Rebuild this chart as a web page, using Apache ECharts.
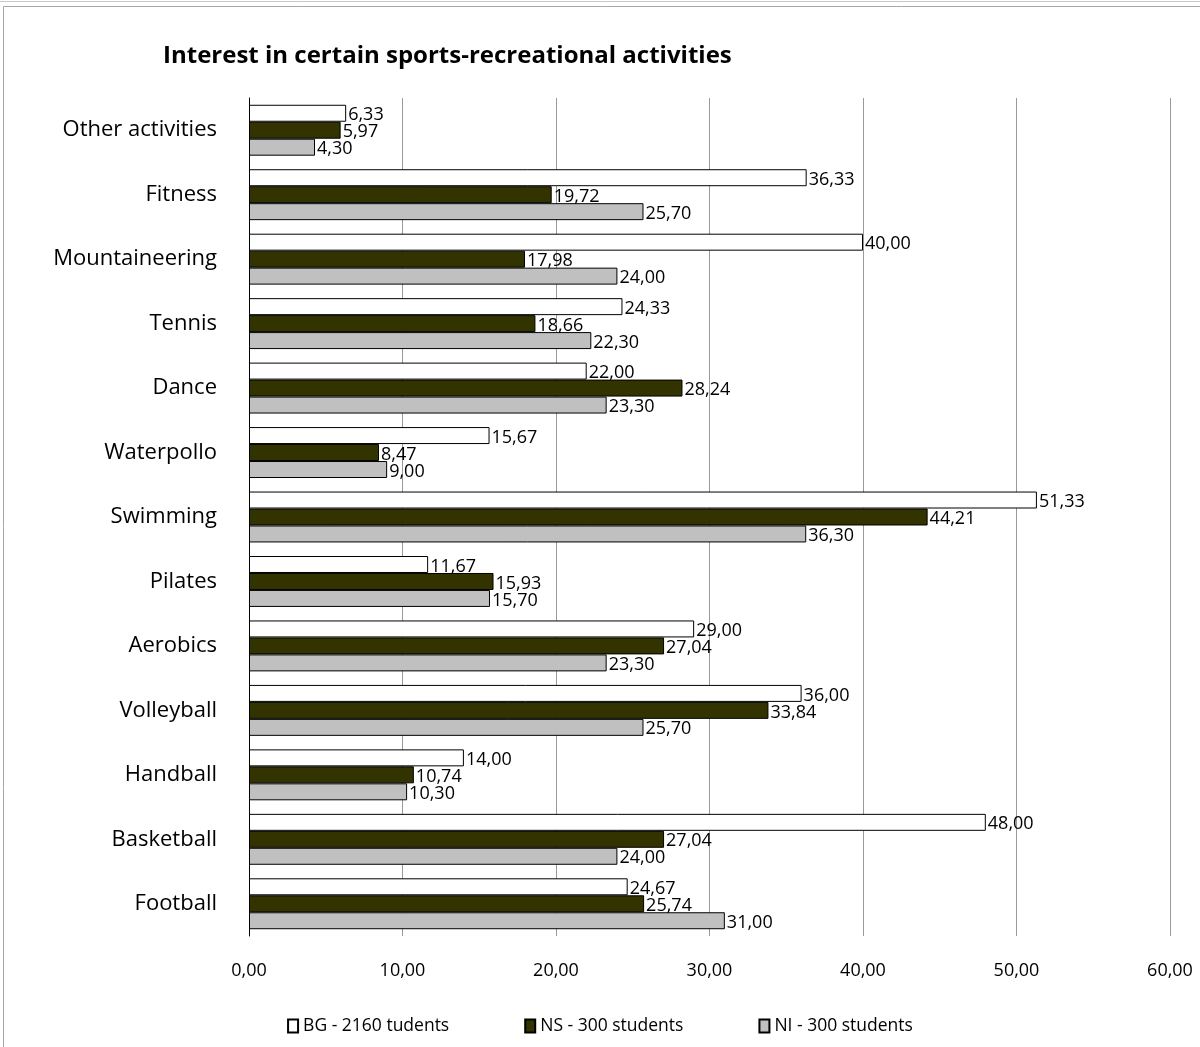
<!DOCTYPE html>
<html>
<head>
<meta charset="utf-8">
<script src="https://cdn.jsdelivr.net/npm/echarts@6/dist/echarts.min.js"></script>
<style>
html,body{margin:0;padding:0;background:#fff;}
#chart{width:1200px;height:1047px;}
</style>
</head>
<body>
<div id="chart"></div>
<script>
const categories = ["Other activities","Fitness","Mountaineering","Tennis","Dance","Waterpollo","Swimming","Pilates","Aerobics","Volleyball","Handball","Basketball","Football"];
const bgValues = [6.33,36.33,40.00,24.33,22.00,15.67,51.33,11.67,29.00,36.00,14.00,48.00,24.67];
const nsValues = [5.97,19.72,17.98,18.66,28.24,8.47,44.21,15.93,27.04,33.84,10.74,27.04,25.74];
const niValues = [4.30,25.70,24.00,22.30,23.30,9.00,36.30,15.70,23.30,25.70,10.30,24.00,31.00];
const seriesNames = ["BG - 2160 tudents","NS - 300 students","NI - 300 students"];
const xTicks = {min:0, max:60, interval:10};

const fmt = v => Number(v).toFixed(2).replace('.', ',');
const font = "'Open Sans', 'Noto Sans', sans-serif";

const chart = echarts.init(document.getElementById('chart'), null, {renderer:'canvas'});
function mk(name, data, color){
  return {
    name: name, type:'bar', data:data,
    barGap:'0%', barCategoryGap:'21%',
    itemStyle:{color:color, borderColor:'#000', borderWidth:1},
    label:{show:true, position:'right', distance:2, color:'#000', fontSize:18, fontFamily:font,
      formatter: p => fmt(p.value), offset:[0,2]}
  };
}
chart.setOption({
  animation:false,
  backgroundColor:'#fff',
  graphic:[{type:'rect', shape:{x:3.5,y:6.5,width:1200,height:1045}, style:{fill:'none', stroke:'#a6a6a6', lineWidth:1}, silent:true},
           {type:'line', shape:{x1:0,y1:1.5,x2:1200,y2:1.5}, style:{stroke:'#c8c8c8', lineWidth:1}}],
  title:{text:'Interest in certain sports-recreational activities', left:158, top:39,
    textStyle:{fontFamily:font, fontWeight:'bold', fontSize:24, color:'#000'}},
  legend:{bottom:7, left:'center', itemWidth:10, itemHeight:13, itemGap:75,
    textStyle:{fontFamily:font, fontSize:17.5, color:'#000'},
    data:seriesNames, icon:'rect'},
  grid:{left:249, right:30, top:98, bottom:111, containLabel:false},
  xAxis:{type:'value', min:xTicks.min, max:xTicks.max, interval:xTicks.interval,
    axisLine:{show:false}, axisTick:{show:false},
    axisLabel:{formatter:v=>fmt(v), fontFamily:font, fontSize:18, color:'#000', margin:26},
    splitLine:{show:true, lineStyle:{color:'#999', width:1}}},
  yAxis:{type:'category', data:categories, inverse:true,
    axisLine:{show:true, lineStyle:{color:'#000', width:1}},
    axisTick:{show:false},
    axisLabel:{fontFamily:font, fontSize:22, color:'#000', margin:32}},
  series:[mk(seriesNames[0], bgValues, '#ffffff'), mk(seriesNames[1], nsValues, '#333300'), mk(seriesNames[2], niValues, '#c0c0c0')]
});
</script>
</body>
</html>
